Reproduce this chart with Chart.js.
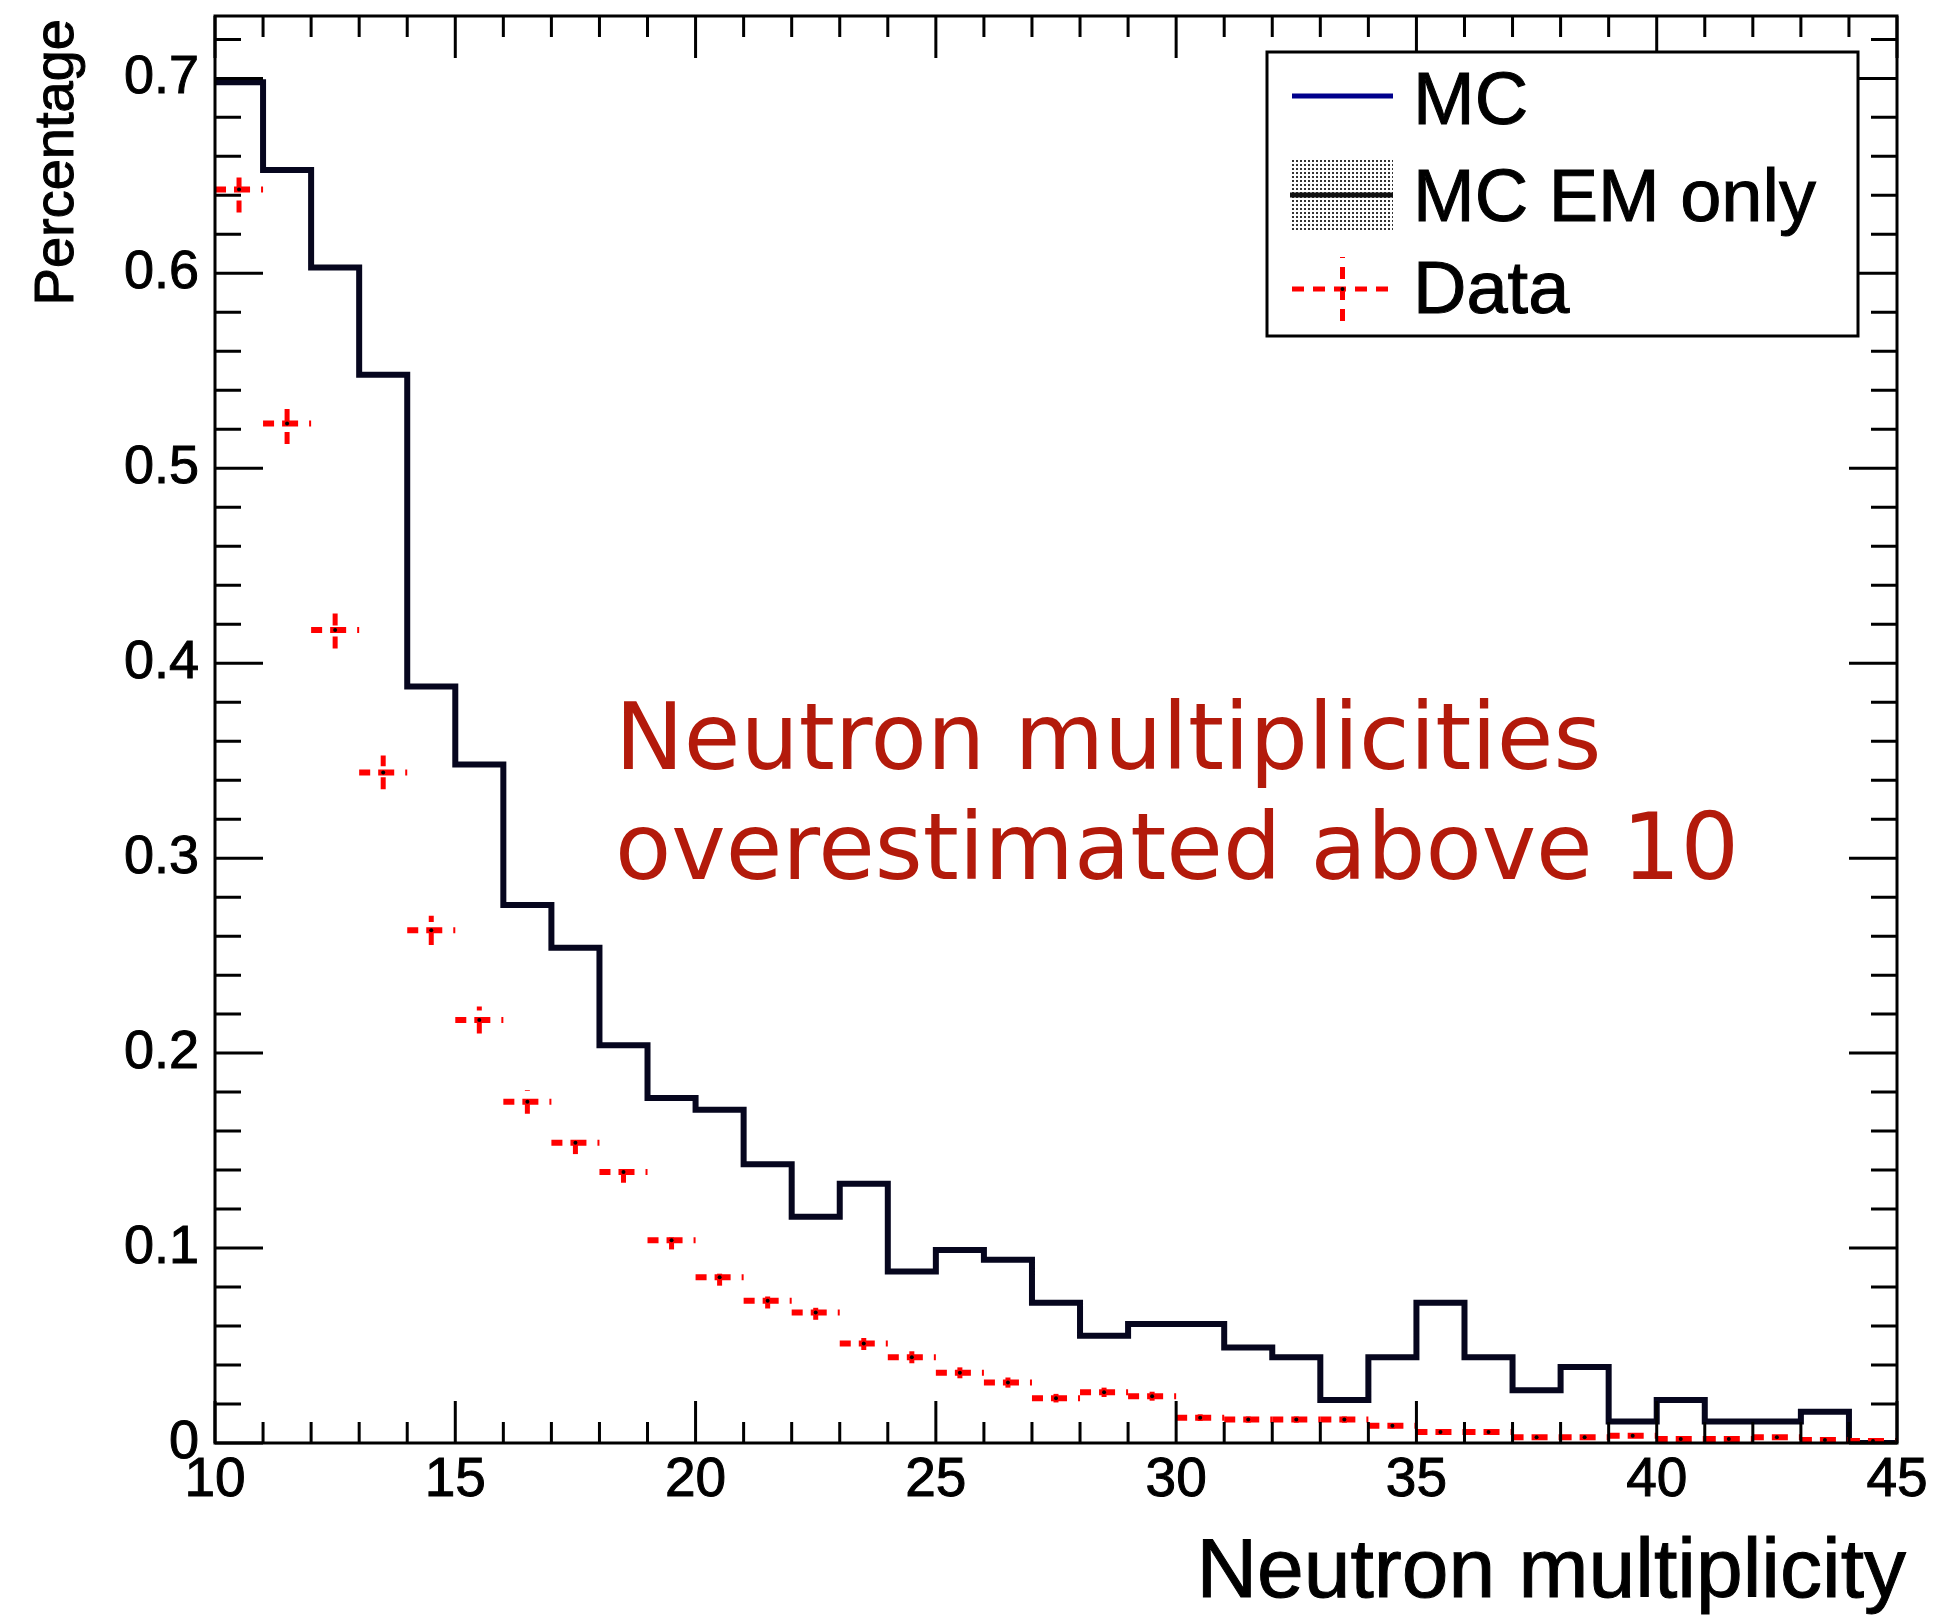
<!DOCTYPE html>
<html>
<head>
<meta charset="utf-8">
<script src="https://cdn.jsdelivr.net/npm/chart.js@4.4.0/dist/chart.umd.min.js"></script>
<style>
html, body { margin: 0; padding: 0; background: #fff; }
#grafico { display: block; }
</style>
</head>
<body>
<canvas id="grafico" width="1946" height="1615"></canvas>
<script>
// bordas dos bins (10 a 45) e valores do histograma MC
const binEdges = [10,11,12,13,14,15,16,17,18,19,20,21,22,23,24,25,26,27,28,29,30,31,32,33,34,35,36,37,38,39,40,41,42,43,44,45];
const mcValues = [0.698,0.653,0.603,0.548,0.388,0.348,0.276,0.254,0.204,0.177,0.171,0.143,0.116,0.133,0.088,0.099,0.094,0.072,0.055,0.061,0.061,0.049,0.044,0.022,0.044,0.072,0.044,0.027,0.039,0.011,0.022,0.011,0.011,0.016,0];

// pontos de dados (centro do bin), valores e erros verticais
const dataCenters = [10.5,11.5,12.5,13.5,14.5,15.5,16.5,17.5,18.5,19.5,20.5,21.5,22.5,23.5,24.5,25.5,26.5,27.5,28.5,29.5,30.5,31.5,32.5,33.5,34.5,35.5,36.5,37.5,38.5,39.5,40.5,41.5,42.5,43.5,44.5];
const dataValues = [0.643,0.523,0.417,0.344,0.263,0.217,0.175,0.154,0.139,0.104,0.085,0.073,0.067,0.051,0.044,0.036,0.031,0.023,0.026,0.024,0.013,0.012,0.012,0.012,0.0088,0.0056,0.0056,0.003,0.003,0.0037,0.002,0.002,0.003,0.0015,0.001];
const dataErrors = [0.0118,0.0106,0.0095,0.0086,0.0075,0.0069,0.0061,0.0058,0.0055,0.0047,0.0043,0.004,0.0038,0.0033,0.0031,0.0028,0.0026,0.0022,0.0024,0.0023,0.0017,0.0016,0.0016,0.0016,0.0014,0.0011,0.0011,0.0008,0.0008,0.0009,0.0007,0.0007,0.0008,0.0006,0.0005];
const binWidth = 1;

// rótulos dos eixos
const xTickLabels = [10,15,20,25,30,35,40,45];
const yTickLabels = [0,0.1,0.2,0.3,0.4,0.5,0.6,0.7];
const xMin = 10, xMax = 45, yMin = 0, yMax = 0.732;

const legendItems = ["MC", "MC EM only", "Data"];
const noteLines = ["Neutron multiplicities", "overestimated above 10"];

const fonte = "'Liberation Sans', Arial, Helvetica, sans-serif";
const vermelho = "#ff0000";

// pontos do histograma (borda esquerda de cada bin + último ponto em 45)
const histPoints = binEdges.map(function (x, i) {
    return { x: x, y: mcValues[Math.min(i, mcValues.length - 1)] };
});
const dataPoints = dataCenters.map(function (x, i) {
    return { x: x, y: dataValues[i] };
});

function desenharBarrasErro(chart) {
    const ctx = chart.ctx;
    const sx = chart.scales.x, sy = chart.scales.y;
    ctx.save();
    ctx.strokeStyle = vermelho;
    ctx.lineCap = "butt";
    for (let i = 0; i < dataCenters.length; i++) {
        const x0 = sx.getPixelForValue(dataCenters[i] - binWidth / 2);
        const x1 = sx.getPixelForValue(dataCenters[i] + binWidth / 2);
        const yc = sy.getPixelForValue(dataValues[i]);
        const k = (x1 - x0) / 48;
        // traço horizontal estilo ROOT: "- + '"
        ctx.lineWidth = 6;
        ctx.setLineDash([11 * k, 8 * k, 16 * k, 11 * k, 2 * k, 200]);
        ctx.beginPath();
        ctx.moveTo(x0, yc);
        ctx.lineTo(x1, yc);
        ctx.stroke();
        // barra vertical, tracejada de baixo para cima
        const xc = sx.getPixelForValue(dataCenters[i]);
        const ya = sy.getPixelForValue(dataValues[i] - dataErrors[i]);
        const yb = sy.getPixelForValue(dataValues[i] + dataErrors[i]);
        ctx.lineWidth = 5;
        ctx.setLineDash([12, 11, 12, 200]);
        ctx.beginPath();
        ctx.moveTo(xc, ya);
        ctx.lineTo(xc, yb);
        ctx.stroke();
    }
    ctx.restore();
}

function padraoPontilhado(ctx) {
    const c = document.createElement("canvas");
    c.width = 4; c.height = 4;
    const g = c.getContext("2d");
    g.fillStyle = "#fff";
    g.fillRect(0, 0, 4, 4);
    g.fillStyle = "#333";
    g.fillRect(0, 0, 2, 2);
    return ctx.createPattern(c, "repeat");
}

function textoForte(ctx, txt, x, y) {
    ctx.fillText(txt, x, y);
    ctx.strokeText(txt, x, y);
}

const pluginMoldura = {
    id: "moldura",
    beforeDatasetDraw: function (chart, args) {
        if (args.index === 0) desenharBarrasErro(chart);
    },
    afterDraw: function (chart) {
        const ctx = chart.ctx;
        const a = chart.chartArea;
        const sx = chart.scales.x, sy = chart.scales.y;
        ctx.save();
        ctx.setLineDash([]);
        ctx.strokeStyle = "#000";
        ctx.lineWidth = 3;
        ctx.strokeRect(a.left, a.top, a.right - a.left, a.bottom - a.top);

        // ticks do eixo x (embaixo e em cima)
        ctx.beginPath();
        for (let v = xMin; v <= xMax; v++) {
            const px = sx.getPixelForValue(v);
            const len = xTickLabels.indexOf(v) >= 0 ? 42 : 21;
            ctx.moveTo(px, a.bottom); ctx.lineTo(px, a.bottom - len);
            ctx.moveTo(px, a.top); ctx.lineTo(px, a.top + len);
        }
        // ticks do eixo y (esquerda e direita)
        for (let k = 0; k <= 36; k++) {
            const v = k * 0.02;
            if (v > yMax) break;
            const py = sy.getPixelForValue(v);
            const len = (k % 5 === 0) ? 48 : 26;
            ctx.moveTo(a.left, py); ctx.lineTo(a.left + len, py);
            ctx.moveTo(a.right, py); ctx.lineTo(a.right - len, py);
        }
        ctx.stroke();

        // títulos dos eixos
        ctx.fillStyle = "#000";
        ctx.strokeStyle = "#000";
        ctx.lineWidth = 1;
        ctx.font = "84px " + fonte;
        ctx.textAlign = "right";
        ctx.textBaseline = "alphabetic";
        textoForte(ctx, "Neutron multiplicity", a.right + 9, 1597);

        ctx.save();
        ctx.translate(73, a.top + 3);
        ctx.rotate(-Math.PI / 2);
        ctx.font = "56px " + fonte;
        ctx.textAlign = "right";
        textoForte(ctx, "Percentage", 0, 0);
        ctx.restore();

        // texto de anotação
        ctx.font = "92px 'DejaVu Sans', Verdana, sans-serif";
        ctx.fillStyle = "#b31a0b";
        ctx.textAlign = "left";
        ctx.fillText(noteLines[0], a.left + 400, a.top + 753);
        ctx.fillText(noteLines[1], a.left + 400, a.top + 863);

        // legenda
        const lx0 = a.right - 630, lx1 = a.right - 39;
        const ly0 = a.top + 36, ly1 = a.top + 320;
        ctx.fillStyle = "#fff";
        ctx.fillRect(lx0, ly0, lx1 - lx0, ly1 - ly0);
        ctx.strokeStyle = "#000";
        ctx.lineWidth = 3;
        ctx.strokeRect(lx0, ly0, lx1 - lx0, ly1 - ly0);

        const sx0 = lx0 + 25, sx1 = lx0 + 126;
        // MC
        ctx.strokeStyle = "#00008c";
        ctx.lineWidth = 5;
        ctx.beginPath();
        ctx.moveTo(sx0, ly0 + 44); ctx.lineTo(sx1, ly0 + 44);
        ctx.stroke();
        // MC EM only
        ctx.fillStyle = padraoPontilhado(ctx);
        ctx.fillRect(sx0 - 2, ly0 + 108, sx1 - sx0 + 2, 70);
        ctx.strokeStyle = "#111";
        ctx.lineWidth = 5;
        ctx.beginPath();
        ctx.moveTo(sx0 - 2, ly0 + 143); ctx.lineTo(sx1, ly0 + 143);
        ctx.stroke();
        // Data
        const cx = (sx0 + sx1) / 2, cy = ly0 + 237;
        ctx.strokeStyle = vermelho;
        ctx.lineWidth = 5;
        ctx.setLineDash([12, 9]);
        ctx.beginPath();
        ctx.moveTo(sx0, cy); ctx.lineTo(sx1, cy);
        ctx.moveTo(cx, cy + 32); ctx.lineTo(cx, cy - 32);
        ctx.stroke();
        ctx.setLineDash([]);
        ctx.fillStyle = "#000";
        ctx.beginPath();
        ctx.arc(cx, cy, 2, 0, Math.PI * 2);
        ctx.fill();

        ctx.fillStyle = "#000";
        ctx.strokeStyle = "#000";
        ctx.lineWidth = 1;
        ctx.font = "74px " + fonte;
        ctx.textAlign = "left";
        textoForte(ctx, legendItems[0], lx0 + 146, ly0 + 72);
        textoForte(ctx, legendItems[1], lx0 + 146, ly0 + 169);
        textoForte(ctx, legendItems[2], lx0 + 146, ly0 + 261);
        ctx.restore();
    }
};

const config = {
    type: "scatter",
    data: {
        datasets: [
            {
                label: "Data",
                data: dataPoints,
                pointRadius: 2,
                pointBackgroundColor: "#000",
                pointBorderWidth: 0,
                showLine: false
            },
            {
                label: "MC",
                type: "line",
                data: histPoints,
                stepped: "before",
                borderColor: "#06061e",
                borderWidth: 6,
                pointRadius: 0,
                fill: false,
                tension: 0
            }
        ]
    },
    options: {
        responsive: false,
        devicePixelRatio: 1,
        animation: false,
        events: [],
        layout: { padding: { left: 0, right: 49, top: 16, bottom: 0 } },
        plugins: { legend: { display: false }, tooltip: { enabled: false } },
        scales: {
            x: {
                type: "linear",
                min: xMin,
                max: xMax,
                grid: { display: false, drawTicks: false },
                border: { display: false },
                afterBuildTicks: function (s) {
                    s.ticks = xTickLabels.map(function (v) { return { value: v }; });
                },
                afterFit: function (s) {
                    s.height = 172;
                    s.paddingLeft = 0; s.paddingRight = 0;
                },
                ticks: {
                    autoSkip: false,
                    maxRotation: 0,
                    padding: 5,
                    color: "#000",
                    textStrokeColor: "#000",
                    textStrokeWidth: 1,
                    font: { family: fonte, size: 55 },
                    callback: function (v) { return String(v); }
                }
            },
            y: {
                type: "linear",
                min: yMin,
                max: yMax,
                grid: { display: false, drawTicks: false },
                border: { display: false },
                afterBuildTicks: function (s) {
                    s.ticks = yTickLabels.map(function (v) { return { value: v }; });
                },
                afterFit: function (s) {
                    s.width = 215;
                    s.paddingTop = 0; s.paddingBottom = 0;
                },
                ticks: {
                    autoSkip: false,
                    padding: 16,
                    color: "#000",
                    textStrokeColor: "#000",
                    textStrokeWidth: 1,
                    font: { family: fonte, size: 54 },
                    callback: function (v) { return v === 0 ? "0" : v.toFixed(1); }
                }
            }
        }
    },
    plugins: [pluginMoldura]
};

let myChart = new Chart(document.getElementById("grafico"), config);
</script>
</body>
</html>
